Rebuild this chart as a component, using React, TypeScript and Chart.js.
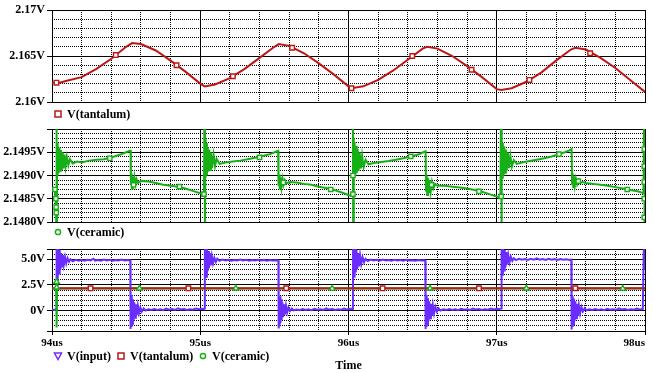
import React, { useEffect, useRef } from 'react';
import { Chart, registerables } from 'chart.js';
Chart.register(...registerables);

const RED = '#bc1616';
const GREEN = '#16b016';
const PURPLE = '#6a2cff';
const FONT = '"Liberation Serif", "Times New Roman", serif';

// ---- axis ticks ----
const timeTicks = [94, 95, 96, 97, 98];
const timeTickLabels = ['94us', '95us', '96us', '97us', '98us'];
const tantalumTicks = [2.16, 2.165, 2.17];
const tantalumTickLabels = ['2.16V', '2.165V', '2.17V'];
const ceramicTicks = [2.148, 2.1485, 2.149, 2.1495, 2.15];
const ceramicTickLabels = ['2.1480V', '2.1485V', '2.1490V', '2.1495V', ''];
const inputTicks = [-2, 0, 2.5, 5, 6];
const inputTickLabels = ['', '0V', '2.5V', '5.0V', ''];

// ---- V(tantalum) ----
const tantalumTime = [
  94.0, 94.05, 94.1, 94.2, 94.3, 94.4, 94.5, 94.54, 94.6, 94.7, 94.8, 94.9, 95.0, 95.03,
  95.1, 95.2, 95.3, 95.4, 95.5, 95.53, 95.6, 95.7, 95.8, 95.9, 96.0, 96.02,
  96.1, 96.2, 96.3, 96.4, 96.5, 96.53, 96.6, 96.7, 96.8, 96.9, 97.0, 97.03,
  97.1, 97.2, 97.3, 97.4, 97.5, 97.53, 97.6, 97.7, 97.8, 97.9, 98.0,
];
const tantalumV = [
  2.1621, 2.1621, 2.1623, 2.1627, 2.1636, 2.1647, 2.166, 2.1664, 2.1663, 2.1656, 2.1645, 2.1633, 2.162, 2.1617,
  2.1619, 2.1626, 2.1636, 2.1648, 2.166, 2.1663, 2.1661, 2.1653, 2.1642, 2.163, 2.1617, 2.1615,
  2.1617, 2.1624, 2.1634, 2.1646, 2.1658, 2.166, 2.1658, 2.165, 2.1639, 2.1627, 2.1614, 2.1613,
  2.1615, 2.1622, 2.1632, 2.1645, 2.1657, 2.1659, 2.1657, 2.1648, 2.1637, 2.1624, 2.1611,
];
const tantalumMarkTime1 = [94.03, 94.43, 94.84, 95.22, 95.62, 96.02, 96.43, 96.83, 97.22, 97.63];
const tantalumMarkV1 = [2.1621, 2.1651, 2.164, 2.1628, 2.1659, 2.1615, 2.165, 2.1635, 2.1624, 2.1653];
const tantalumMarkTime3 = [94.26, 94.92, 95.58, 96.23, 96.88, 97.53];
const tantalumMarkV3 = [2.1632, 2.1631, 2.1662, 2.1627, 2.1629, 2.1659];

// ---- V(ceramic) ----
const ceramicTime = [
  94.0, 94.02, 94.028, 94.03, 94.032, 94.034, 94.036, 94.04, 94.045, 94.05, 94.055, 94.06, 94.066, 94.072, 94.078,
  94.085, 94.092, 94.1, 94.11, 94.12, 94.14, 94.17, 94.2, 94.25, 94.3, 94.35, 94.39, 94.43, 94.47, 94.5, 94.525, 94.53,
  94.532, 94.536, 94.54, 94.545, 94.55, 94.556, 94.562, 94.57, 94.58, 94.6, 94.65, 94.7, 94.75, 94.8, 94.85, 94.9, 94.95, 95.0, 95.025,
  95.03, 95.032, 95.034, 95.036, 95.04, 95.045, 95.05, 95.055, 95.06, 95.066, 95.072, 95.08, 95.09, 95.1, 95.11, 95.13,
  95.17, 95.22, 95.27, 95.32, 95.37, 95.42, 95.47, 95.51, 95.525,
  95.528, 95.532, 95.536, 95.542, 95.548, 95.555, 95.562, 95.57, 95.58, 95.6, 95.65, 95.7, 95.75, 95.8, 95.85, 95.9, 95.95, 96.0, 96.025,
  96.03, 96.032, 96.034, 96.037, 96.041, 96.046, 96.051, 96.056, 96.062, 96.068, 96.075, 96.083, 96.092, 96.102, 96.115, 96.135,
  96.17, 96.22, 96.27, 96.32, 96.37, 96.42, 96.47, 96.505, 96.52,
  96.523, 96.527, 96.531, 96.536, 96.542, 96.548, 96.555, 96.563, 96.572, 96.585, 96.6, 96.65, 96.7, 96.75, 96.8, 96.85, 96.9, 96.95, 97.0, 97.025,
  97.03, 97.032, 97.034, 97.037, 97.041, 97.046, 97.051, 97.056, 97.062, 97.068, 97.075, 97.083, 97.092, 97.102, 97.115, 97.135,
  97.17, 97.22, 97.27, 97.32, 97.37, 97.42, 97.46, 97.49, 97.505,
  97.508, 97.512, 97.516, 97.521, 97.527, 97.534, 97.542, 97.551, 97.562, 97.58, 97.6, 97.65, 97.7, 97.75, 97.8, 97.85, 97.9, 97.95, 97.99,
  97.995, 97.997, 97.999, 98.0,
];
const ceramicV = [
  2.1487, 2.14865, 2.1483, 3.0, -1.65, 2.1497, 2.149, 2.14965, 2.14905, 2.1496, 2.1491, 2.14955, 2.14912, 2.1495, 2.14915,
  2.14945, 2.1492, 2.1494, 2.14922, 2.14935, 2.14926, 2.1493, 2.14928, 2.14932, 2.14934, 2.14935, 2.14938, 2.14942, 2.14946, 2.1495, 2.14953, 2.14953,
  2.1488, 2.14905, 2.14872, 2.14898, 2.14876, 2.14895, 2.1488, 2.14892, 2.14884, 2.14888, 2.14887, 2.14884, 2.1488, 2.14878, 2.14876, 2.14872, 2.14867, 2.14862, 2.1486,
  2.1515, 2.1465, 2.1498, 2.14895, 2.1497, 2.149, 2.14962, 2.14908, 2.14956, 2.14912, 2.1495, 2.14916, 2.14944, 2.1492, 2.14936, 2.14925,
  2.14928, 2.1493, 2.14932, 2.14935, 2.14938, 2.14942, 2.14946, 2.14951, 2.14953,
  2.14878, 2.14902, 2.1487, 2.14896, 2.14875, 2.14893, 2.1488, 2.1489, 2.14883, 2.14886, 2.14885, 2.14882, 2.1488, 2.14876, 2.14873, 2.14869, 2.14864, 2.14858, 2.14856,
  2.1512, 2.1468, 2.1498, 2.1489, 2.14972, 2.14898, 2.14964, 2.14905, 2.14957, 2.1491, 2.1495, 2.14915, 2.14943, 2.14918, 2.14934, 2.14924,
  2.14927, 2.14929, 2.14931, 2.14934, 2.14937, 2.14941, 2.14945, 2.1495, 2.14952,
  2.14868, 2.149, 2.14858, 2.14895, 2.14862, 2.1489, 2.14866, 2.14886, 2.14872, 2.14882, 2.14878, 2.14878, 2.14876, 2.14874, 2.14872, 2.14869, 2.14865, 2.1486, 2.14855, 2.14853,
  2.1514, 2.1466, 2.1498, 2.14895, 2.1497, 2.149, 2.14963, 2.14906, 2.14956, 2.14911, 2.1495, 2.14916, 2.14942, 2.14919, 2.14933, 2.14925,
  2.14928, 2.14931, 2.14934, 2.14937, 2.14941, 2.14946, 2.1495, 2.14954, 2.14957,
  2.14882, 2.14905, 2.14875, 2.14898, 2.14878, 2.14893, 2.14881, 2.1489, 2.14884, 2.14886, 2.14884, 2.14882, 2.1488, 2.14878, 2.14875, 2.14872, 2.14869, 2.14866, 2.14862,
  2.1515, 2.1465, 2.151, 2.147,
];
const ceramicMarkTime2 = [
  94.02, 94.026, 94.028, 94.029, 94.39, 94.55, 94.86, 95.025, 95.4, 95.56, 95.88, 96.03, 96.03,
  96.42, 96.56, 96.88, 97.03, 97.42, 97.55, 97.88, 97.995, 97.995, 97.995, 97.995, 97.995,
];
const ceramicMarkV2 = [
  2.1487, 2.1485, 2.14832, 2.1482, 2.14937, 2.1488, 2.14876, 2.1486, 2.14939, 2.14885, 2.1487, 2.1486, 2.149,
  2.14941, 2.1488, 2.14866, 2.14855, 2.14946, 2.14888, 2.1487, 2.14957, 2.1492, 2.14886, 2.1485, 2.1481,
];
const ceramicMarkTime3 = [94.031, 94.031, 94.59, 95.24, 95.89, 96.55, 97.2, 97.85];
const ceramicMarkV3 = [2.8, 2.25, 2.1489, 2.1493, 2.1487, 2.1488, 2.1493, 2.1487];

// ---- V(input) ----
const inputTime = [
  94.0, 94.015, 94.025, 94.03, 94.031, 94.034, 94.037, 94.04, 94.044, 94.048, 94.052, 94.057, 94.062, 94.068, 94.074, 94.08,
  94.088, 94.096, 94.105, 94.115, 94.125, 94.14, 94.16, 94.18, 94.2, 94.22, 94.24, 94.26, 94.28, 94.29, 94.31, 94.33, 94.35,
  94.37, 94.39, 94.41, 94.43, 94.45, 94.47, 94.49, 94.51, 94.528,
  94.53, 94.533, 94.536, 94.539, 94.542, 94.546, 94.55, 94.555, 94.56, 94.566, 94.572, 94.579, 94.587, 94.596, 94.606, 94.618,
  94.63, 94.65, 94.67, 94.69, 94.71, 94.73, 94.75, 94.77, 94.79, 94.81, 94.83, 94.85, 94.87, 94.89, 94.91, 94.93, 94.95, 94.97,
  94.99, 95.01, 95.025,
  95.03, 95.031, 95.034, 95.037, 95.041, 95.045, 95.049, 95.054, 95.059, 95.065, 95.071, 95.078, 95.086, 95.095, 95.105, 95.115,
  95.13, 95.15, 95.17, 95.19, 95.21, 95.23, 95.25, 95.27, 95.29, 95.31, 95.33, 95.35, 95.37, 95.39, 95.41, 95.43, 95.45, 95.47,
  95.49, 95.51, 95.527,
  95.529, 95.532, 95.535, 95.538, 95.541, 95.545, 95.549, 95.554, 95.559, 95.565, 95.571, 95.578, 95.586, 95.595, 95.605, 95.617,
  95.63, 95.65, 95.67, 95.69, 95.71, 95.73, 95.75, 95.77, 95.79, 95.81, 95.83, 95.85, 95.87, 95.89, 95.91, 95.93, 95.95, 95.97,
  95.99, 96.01, 96.025,
  96.03, 96.031, 96.034, 96.037, 96.041, 96.045, 96.049, 96.054, 96.059, 96.065, 96.071, 96.078, 96.086, 96.095, 96.105, 96.115,
  96.13, 96.15, 96.17, 96.19, 96.21, 96.23, 96.25, 96.27, 96.29, 96.31, 96.33, 96.35, 96.37, 96.39, 96.41, 96.43, 96.45, 96.47,
  96.49, 96.51, 96.518,
  96.52, 96.523, 96.526, 96.529, 96.532, 96.536, 96.54, 96.545, 96.55, 96.556, 96.562, 96.569, 96.577, 96.586, 96.596, 96.608,
  96.62, 96.64, 96.66, 96.68, 96.7, 96.72, 96.74, 96.76, 96.78, 96.8, 96.82, 96.84, 96.86, 96.88, 96.9, 96.92, 96.94, 96.96,
  96.98, 97.0, 97.02,
  97.03, 97.031, 97.034, 97.037, 97.041, 97.045, 97.049, 97.054, 97.059, 97.065, 97.071, 97.078, 97.086, 97.095, 97.105, 97.115,
  97.13, 97.15, 97.17, 97.19, 97.21, 97.23, 97.25, 97.27, 97.29, 97.31, 97.33, 97.35, 97.37, 97.39, 97.41, 97.43, 97.45, 97.47,
  97.49, 97.503,
  97.505, 97.508, 97.511, 97.514, 97.517, 97.521, 97.525, 97.53, 97.535, 97.541, 97.547, 97.554, 97.562, 97.571, 97.581, 97.593,
  97.605, 97.625, 97.645, 97.665, 97.685, 97.705, 97.725, 97.745, 97.765, 97.785, 97.805, 97.825, 97.845, 97.865, 97.885, 97.905,
  97.925, 97.945, 97.965, 97.985, 97.993, 98.0,
];
const inputV = [
  0.1, 0.05, 0.12, 0.15, 6.6, 3.4, 6.4, 3.1, 6.2, 3.6, 5.9, 4.0, 5.6, 4.3, 5.4, 4.5,
  5.2, 4.6, 5.1, 4.75, 5.0, 4.8, 4.95, 4.85, 4.92, 4.86, 4.95, 4.88, 5.05, 4.87, 4.93, 4.85, 4.97,
  4.88, 4.94, 4.86, 4.92, 4.88, 4.96, 4.87, 4.93, 4.9,
  -1.8, 0.9, -1.6, 1.5, -1.3, 1.1, -1.0, 0.8, -0.7, 0.6, -0.45, 0.45, -0.25, 0.3, -0.1, 0.2,
  0.0, 0.12, 0.05, 0.15, 0.06, 0.12, 0.04, 0.18, 0.08, 0.14, 0.05, 0.22, 0.1, 0.15, 0.06, 0.13, 0.08, 0.2,
  0.12, 0.18, 0.15,
  0.2, 6.7, 3.6, 6.5, 3.3, 6.1, 3.8, 5.8, 4.1, 5.6, 4.4, 5.3, 4.6, 5.15, 4.75, 5.05,
  4.85, 4.98, 4.88, 4.95, 4.86, 4.93, 4.89, 4.97, 4.88, 4.94, 4.85, 4.92, 4.87, 4.95, 4.88, 4.93, 4.86, 4.92,
  4.88, 4.9, 4.88,
  -1.75, 1.0, -1.55, 1.4, -1.25, 1.1, -0.95, 0.8, -0.65, 0.6, -0.4, 0.45, -0.2, 0.3, -0.05, 0.2,
  0.02, 0.1, 0.04, 0.14, 0.05, 0.12, 0.03, 0.16, 0.07, 0.13, 0.05, 0.2, 0.09, 0.15, 0.06, 0.12, 0.08, 0.18,
  0.1, 0.16, 0.14,
  0.18, 6.8, 3.5, 6.6, 3.2, 6.2, 3.7, 5.9, 4.0, 5.6, 4.3, 5.4, 4.55, 5.2, 4.7, 5.05,
  4.82, 4.97, 4.87, 4.94, 4.86, 4.96, 4.88, 4.93, 4.85, 4.95, 4.87, 4.92, 4.86, 4.94, 4.88, 4.91, 4.85, 4.93,
  4.88, 4.9, 4.88,
  -1.8, 1.1, -1.6, 1.5, -1.35, 1.2, -1.05, 0.9, -0.75, 0.65, -0.5, 0.5, -0.3, 0.35, -0.1, 0.22,
  0.0, 0.12, 0.05, 0.14, 0.06, 0.12, 0.03, 0.17, 0.07, 0.13, 0.05, 0.19, 0.09, 0.14, 0.06, 0.12, 0.07, 0.2,
  0.1, 0.16, 0.14,
  0.2, 6.8, 3.7, 6.5, 3.4, 6.2, 3.9, 5.9, 4.2, 5.7, 4.5, 5.4, 4.7, 5.25, 4.85, 5.1,
  4.92, 5.05, 4.95, 5.02, 4.94, 5.04, 4.96, 5.08, 4.95, 5.02, 4.94, 5.05, 4.96, 5.01, 4.93, 5.03, 4.95, 5.0,
  4.94, 4.96,
  -1.85, 1.0, -1.6, 1.4, -1.35, 1.15, -1.05, 0.9, -0.75, 0.65, -0.5, 0.5, -0.3, 0.35, -0.1, 0.22,
  0.02, 0.12, 0.05, 0.15, 0.06, 0.12, 0.04, 0.17, 0.08, 0.13, 0.05, 0.2, 0.09, 0.14, 0.06, 0.12,
  0.08, 0.19, 0.1, 0.15, 6.8, 4.0,
];

// ---- helpers ----
const pts = (t: number[], v: number[]) => t.map((x, i) => ({ x, y: v[i] }));

const lineSet = (label: string, t: number[], v: number[], color: string, order: number) => ({
  label,
  data: pts(t, v),
  borderColor: color,
  backgroundColor: color,
  borderWidth: 2,
  pointRadius: 0,
  tension: 0,
  fill: false,
  order,
});

const markSet = (label: string, t: number[], v: number[], color: string, style: string, radius: number, order: number) => ({
  label,
  data: pts(t, v),
  showLine: false,
  pointStyle: style,
  pointRadius: radius,
  pointBorderWidth: 1.4,
  pointBorderColor: color,
  pointBackgroundColor: '#ffffff',
  borderColor: color,
  backgroundColor: '#ffffff',
  order,
});

const lastLabelRight = {
  id: 'lastLabelRight',
  beforeDraw(chart: any) {
    const s = chart.scales.x;
    if (!s || !s.options.ticks.display) return;
    const items = s.getLabelItems();
    const last = items[items.length - 1];
    if (last) last.options.textAlign = 'right';
  },
};

type PanelOpts = {
  yMin: number;
  yMax: number;
  ticks: number[];
  labels: string[];
  minorStep: number;
  padTop: number;
  padBottom: number;
  showX: boolean;
};

function panelOptions(p: PanelOpts) {
  const tickFont = { family: FONT, weight: 'bold' as const, size: 12 };
  return {
    responsive: false,
    animation: false,
    devicePixelRatio: 1,
    events: [],
    layout: { padding: { top: p.padTop, bottom: p.padBottom, left: 0, right: 8 } },
    plugins: { legend: { display: false }, tooltip: { enabled: false }, title: { display: false } },
    scales: {
      x: {
        type: 'linear',
        axis: 'x',
        position: 'bottom',
        min: 94,
        max: 98,
        afterBuildTicks: (s: any) => {
          s.ticks = timeTicks.map((value) => ({ value }));
        },
        ticks: {
          display: p.showX,
          autoSkip: false,
          maxRotation: 0,
          padding: 2,
          color: '#000',
          font: { family: FONT, weight: 'bold', size: 11 },
          callback: (v: number) => {
            const i = timeTicks.findIndex((a) => Math.abs(a - v) < 1e-9);
            return i >= 0 ? timeTickLabels[i] : '';
          },
        },
        grid: { color: '#000', lineWidth: 1, drawTicks: p.showX, tickLength: 4 },
        border: { display: true, color: '#000', width: 1 },
        title: {
          display: p.showX,
          text: 'Time',
          color: '#000',
          font: { family: FONT, weight: 'bold', size: 12 },
          padding: 0,
        },
        afterFit: (s: any) => {
          s.height = p.showX ? 42 : 0;
          s.paddingLeft = 0;
          s.paddingRight = 0;
        },
      },
      xm: {
        type: 'linear',
        axis: 'x',
        position: 'bottom',
        min: 94,
        max: 98,
        ticks: { display: false, stepSize: 0.2 },
        grid: { color: '#000', lineWidth: 1, drawTicks: false },
        border: { display: false, dash: [1, 1] },
        afterFit: (s: any) => {
          s.height = 0;
          s.paddingLeft = 0;
          s.paddingRight = 0;
        },
      },
      y: {
        type: 'linear',
        axis: 'y',
        position: 'left',
        min: p.yMin,
        max: p.yMax,
        afterBuildTicks: (s: any) => {
          s.ticks = p.ticks.map((value) => ({ value }));
        },
        ticks: {
          autoSkip: false,
          padding: 2,
          color: '#000',
          font: tickFont,
          callback: (v: number) => {
            const i = p.ticks.findIndex((a) => Math.abs(a - v) < 1e-9);
            return i >= 0 ? p.labels[i] : '';
          },
        },
        grid: { color: '#000', lineWidth: 1, drawTicks: true, tickLength: 5 },
        border: { display: true, color: '#000', width: 1 },
        afterFit: (s: any) => {
          s.width = 52;
        },
      },
      ym: {
        type: 'linear',
        axis: 'y',
        position: 'left',
        min: p.yMin,
        max: p.yMax,
        ticks: { display: false, stepSize: p.minorStep },
        grid: { color: '#000', lineWidth: 1, drawTicks: false },
        border: { display: false, dash: [1, 1] },
        afterFit: (s: any) => {
          s.width = 0;
        },
      },
    },
  };
}

function makePanel1() {
  return {
    type: 'line',
    data: {
      datasets: [
        markSet('tantalum markers', tantalumMarkTime1, tantalumMarkV1, RED, 'rect', 3.2, 0),
        lineSet('V(tantalum)', tantalumTime, tantalumV, RED, 1),
      ],
    },
    options: panelOptions({
      yMin: 2.16, yMax: 2.17, ticks: tantalumTicks, labels: tantalumTickLabels,
      minorStep: 0.001, padTop: 10, padBottom: 271, showX: false,
    }),
  };
}

function makePanel2() {
  return {
    type: 'line',
    data: {
      datasets: [
        markSet('ceramic markers', ceramicMarkTime2, ceramicMarkV2, GREEN, 'rect', 3, 0),
        lineSet('V(ceramic)', ceramicTime, ceramicV, GREEN, 1),
      ],
    },
    options: panelOptions({
      yMin: 2.148, yMax: 2.15, ticks: ceramicTicks, labels: ceramicTickLabels,
      minorStep: 0.0001, padTop: 129, padBottom: 151, showX: false,
    }),
  };
}

function makePanel3() {
  return {
    type: 'line',
    data: {
      datasets: [
        markSet('tantalum markers', tantalumMarkTime3, tantalumMarkV3, RED, 'rect', 3.2, 0),
        markSet('ceramic markers', ceramicMarkTime3, ceramicMarkV3, GREEN, 'triangle', 3.2, 1),
        lineSet('V(tantalum)', tantalumTime, tantalumV, RED, 2),
        lineSet('V(ceramic)', ceramicTime, ceramicV, GREEN, 3),
        lineSet('V(input)', inputTime, inputV, PURPLE, 4),
      ],
    },
    options: panelOptions({
      yMin: -2, yMax: 6, ticks: inputTicks, labels: inputTickLabels,
      minorStep: 0.5, padTop: 249, padBottom: 0, showX: true,
    }),
    plugins: [lastLabelRight],
  };
}

function ChartLayer({ make }: { make: () => any }) {
  const ref = useRef<HTMLCanvasElement>(null);
  useEffect(() => {
    const chart = new Chart(ref.current as HTMLCanvasElement, make());
    return () => chart.destroy();
  }, []);
  return (
    <canvas
      ref={ref}
      width={653}
      height={373}
      style={{ position: 'absolute', left: 0, top: 0, width: 653, height: 373 }}
    />
  );
}

function Marker({ shape, color, x, y }: { shape: string; color: string; x: number; y: number }) {
  let el: any = null;
  if (shape === 'rect') el = <rect x={2} y={2} width={6} height={6} fill="#fff" stroke={color} strokeWidth={1.5} />;
  else if (shape === 'circle') el = <circle cx={5} cy={5} r={2.6} fill="#fff" stroke={color} strokeWidth={1.5} />;
  else el = <polygon points="1.5,2 8.5,2 5,8.5" fill="#fff" stroke={color} strokeWidth={1.5} />;
  return (
    <svg width={10} height={10} style={{ position: 'absolute', left: x - 5, top: y - 5 }}>
      {el}
    </svg>
  );
}

type LegendItem = { label: string; color: string; shape: string; x: number };

function Legend({ y, items }: { y: number; items: LegendItem[] }) {
  return (
    <>
      {items.map((it) => (
        <React.Fragment key={it.label}>
          <Marker shape={it.shape} color={it.color} x={it.x} y={y} />
          <div
            style={{
              position: 'absolute',
              left: it.x + 9,
              top: y - 8,
              font: `bold 12px ${FONT}`,
              lineHeight: '16px',
              whiteSpace: 'nowrap',
              color: '#000',
            }}
          >
            {it.label}
          </div>
        </React.Fragment>
      ))}
    </>
  );
}

export default function App() {
  return (
    <div
      style={{
        position: 'fixed',
        left: 0,
        top: 0,
        width: 653,
        height: 373,
        background: '#fff',
        overflow: 'hidden',
      }}
    >
      <ChartLayer make={makePanel1} />
      <ChartLayer make={makePanel2} />
      <ChartLayer make={makePanel3} />
      <Legend y={114} items={[{ label: 'V(tantalum)', color: RED, shape: 'rect', x: 58 }]} />
      <Legend y={232} items={[{ label: 'V(ceramic)', color: GREEN, shape: 'circle', x: 58 }]} />
      <Legend
        y={356}
        items={[
          { label: 'V(input)', color: PURPLE, shape: 'triangle', x: 58 },
          { label: 'V(tantalum)', color: RED, shape: 'rect', x: 121 },
          { label: 'V(ceramic)', color: GREEN, shape: 'circle', x: 203 },
        ]}
      />
    </div>
  );
}
